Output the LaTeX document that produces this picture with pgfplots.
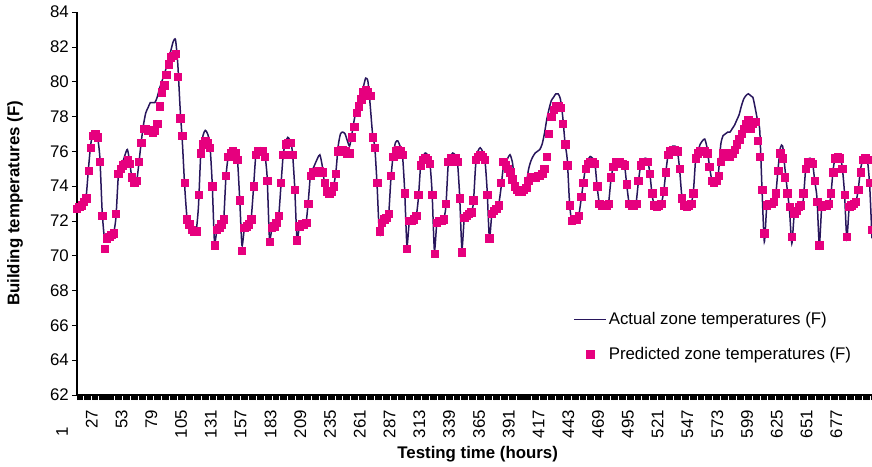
\documentclass[border=0pt]{standalone}
\usepackage{pgfplots}
\usepackage{pgfplotstable}
\pgfplotsset{compat=1.18}
\usepackage{fontspec}
\setmainfont{Liberation Sans}

\definecolor{actualline}{RGB}{40,22,92}
\definecolor{predmark}{RGB}{230,0,126}

\pgfplotsset{
  linelegend/.style={legend image code/.code={\draw[##1] (0bp,0bp) -- (32bp,0bp);}},
  marklegend/.style={legend image code/.code={\draw[mark repeat=2,mark phase=2,##1] plot coordinates {(0bp,0bp) (16bp,0bp) (32bp,0bp)};}},
}

% hour, actual zone temperature, predicted zone temperature (F)
\pgfplotstableread{
h A P
1 72.8 72.7
3 72.9 72.8
5 73.0 72.9
7 73.1 73.1
9 73.4 73.3
11 75.0 74.9
13 76.4 76.2
15 77.0 76.9
17 77.1 77.0
19 76.8 76.8
21 75.6 75.4
23 72.5 72.3
25 71.0 70.4
27 71.1 71.0
29 71.2 71.1
31 71.2 71.2
33 71.3 71.3
35 72.2 72.4
37 74.5 74.7
39 75.2 75.0
41 75.4 75.2
43 75.8 75.3
45 76.1 75.5
47 75.4 75.3
49 74.4 74.5
51 74.0 74.2
53 74.2 74.3
55 75.3 75.4
57 76.5 76.5
59 77.5 77.3
61 78.2 77.3
63 78.5 77.2
65 78.8 77.2
67 78.8 77.1
69 78.8 77.2
71 79.1 77.6
73 79.6 78.6
75 80.0 79.4
77 80.4 79.8
79 80.8 80.4
81 81.3 81.0
83 81.8 81.4
85 82.3 81.5
87 82.4 81.6
89 81.0 80.3
91 78.5 77.9
93 76.5 76.9
95 74.0 74.2
97 72.2 72.1
99 71.8 71.8
101 71.5 71.5
103 71.4 71.4
105 71.4 71.4
107 72.8 73.5
109 75.8 75.9
111 76.9 76.4
113 77.2 76.6
115 77.0 76.5
117 76.4 76.2
119 74.2 74.0
121 70.8 70.6
123 71.4 71.5
125 71.6 71.6
127 71.8 71.8
129 72.0 72.1
131 74.5 74.6
133 75.7 75.7
135 76.0 75.9
137 76.1 76.0
139 76.0 75.9
141 75.6 75.5
143 73.3 73.2
145 70.6 70.3
147 71.5 71.6
149 71.7 71.7
151 71.8 71.8
153 72.1 72.1
155 73.8 74.0
157 75.7 75.8
159 76.1 76.0
161 76.2 76.0
163 76.1 76.0
165 75.8 75.7
167 74.5 74.3
169 71.0 70.8
171 71.5 71.6
173 71.7 71.7
175 71.8 71.9
177 72.2 72.3
179 74.0 74.2
181 75.8 75.8
183 76.5 76.4
185 76.8 76.5
187 76.6 76.5
189 76.0 75.8
191 74.0 73.8
193 71.0 70.9
195 71.6 71.7
197 71.8 71.8
199 71.8 71.8
201 71.9 71.9
203 73.2 73.0
205 74.8 74.6
207 75.0 74.8
209 75.3 74.8
211 75.6 74.9
213 75.8 74.9
215 75.2 74.8
217 74.2 74.2
219 73.7 73.7
221 73.6 73.6
223 73.7 73.7
225 74.0 74.0
227 74.8 74.7
229 76.3 76.0
231 77.0 76.1
233 77.1 76.1
235 77.0 76.0
237 76.6 75.9
239 76.3 75.9
241 77.0 76.8
243 77.8 77.4
245 78.4 78.2
247 78.9 78.6
249 79.3 79.0
251 79.7 79.4
253 80.2 79.5
255 80.0 79.4
257 78.6 79.2
259 77.0 76.8
261 76.2 76.2
263 74.0 74.2
265 71.2 71.4
267 71.8 71.9
269 72.0 72.1
271 72.1 72.2
273 72.3 72.4
275 74.4 74.6
277 75.8 75.7
279 76.5 76.0
281 76.6 76.1
283 76.3 76.0
285 75.9 75.8
287 73.8 73.6
289 70.6 70.4
291 71.9 72.0
293 72.0 72.0
295 72.1 72.1
297 72.2 72.3
299 73.3 73.5
301 75.2 75.2
303 75.7 75.5
305 75.9 75.6
307 75.8 75.5
309 75.4 75.3
311 73.6 73.5
313 70.3 70.1
315 71.8 71.9
317 72.0 72.0
319 72.0 72.0
321 72.1 72.1
323 72.8 73.0
325 75.2 75.4
327 75.7 75.6
329 75.9 75.6
331 75.8 75.6
333 75.5 75.4
335 73.5 73.3
337 70.4 70.2
339 72.1 72.2
341 72.3 72.3
343 72.4 72.4
345 72.5 72.5
347 73.0 73.2
349 75.2 75.5
351 76.0 75.7
353 76.2 75.8
355 76.0 75.7
357 75.6 75.5
359 73.8 73.5
361 71.0 71.0
363 72.3 72.4
365 72.6 72.6
367 72.7 72.7
369 72.9 72.9
371 73.8 74.2
373 75.0 75.4
375 75.3 75.2
377 75.6 75.0
379 75.8 74.8
381 75.4 74.4
383 74.4 74.0
385 73.8 73.8
387 73.6 73.7
389 73.6 73.7
391 73.7 73.8
393 74.0 73.9
395 74.9 74.3
397 75.4 74.5
399 75.7 74.5
401 75.9 74.5
403 76.0 74.6
405 76.1 74.6
407 76.4 74.7
409 77.0 75.0
411 77.8 75.7
413 78.4 77.0
415 78.9 78.0
417 79.1 78.4
419 79.3 78.6
421 79.3 78.6
423 79.0 78.5
425 78.0 77.6
427 76.5 76.4
429 75.5 75.2
431 73.0 72.9
433 71.9 72.0
435 72.0 72.1
437 72.1 72.1
439 72.3 72.3
441 73.2 73.4
443 74.2 74.2
445 75.1 75.0
447 75.5 75.3
449 75.7 75.4
451 75.6 75.4
453 75.4 75.3
455 74.0 74.0
457 73.0 73.0
459 72.9 72.9
461 72.9 72.9
463 72.9 72.9
465 73.0 73.0
467 74.3 74.5
469 75.1 75.1
471 75.4 75.4
473 75.5 75.4
475 75.5 75.4
477 75.4 75.3
479 75.2 75.2
481 74.0 74.1
483 73.0 73.0
485 72.9 72.9
487 72.9 72.9
489 73.0 73.0
491 74.2 74.3
493 75.2 75.2
495 75.5 75.4
497 75.6 75.4
499 75.5 75.4
501 74.8 74.7
503 73.5 73.6
505 72.9 72.9
507 72.8 72.8
509 72.9 72.9
511 73.0 73.0
513 73.6 73.7
515 74.8 74.8
517 75.8 75.8
519 76.1 76.0
521 76.3 76.1
523 76.3 76.1
525 76.1 76.0
527 75.0 75.0
529 73.4 73.3
531 72.9 72.9
533 72.8 72.8
535 72.9 72.9
537 73.0 73.0
539 73.6 73.6
541 75.5 75.6
543 76.0 75.9
545 76.4 76.0
547 76.6 76.0
549 76.7 76.0
551 76.2 75.9
553 75.2 75.1
555 74.4 74.3
557 74.2 74.2
559 74.3 74.3
561 74.8 74.6
563 76.4 75.4
565 76.9 75.9
567 77.0 75.8
569 77.1 75.7
571 77.1 75.7
573 77.3 75.9
575 77.5 76.1
577 77.8 76.4
579 78.1 76.7
581 78.6 77.0
583 79.0 77.3
585 79.2 77.6
587 79.3 77.8
589 79.2 77.3
591 79.1 77.6
593 78.5 77.7
595 77.8 76.6
597 77.2 75.7
599 73.8 73.8
601 70.8 71.3
603 72.7 72.9
605 72.9 73.0
607 73.0 73.0
609 73.0 73.1
611 73.5 73.6
613 75.0 74.9
615 76.2 75.9
617 76.3 75.6
619 75.0 74.5
621 73.8 73.6
623 72.6 72.8
625 70.7 71.1
627 72.3 72.4
629 72.6 72.6
631 72.7 72.8
633 72.8 72.9
635 73.2 73.6
637 74.9 75.0
639 75.5 75.4
641 75.6 75.4
643 75.4 75.3
645 74.3 74.3
647 73.3 73.1
649 70.6 70.6
651 72.7 72.8
653 72.8 72.9
655 72.9 72.9
657 72.9 73.0
659 73.4 73.6
661 74.9 74.8
663 75.7 75.6
665 75.8 75.7
667 75.7 75.6
669 75.1 75.0
671 73.6 73.5
673 71.0 71.1
675 72.7 72.8
677 72.9 72.9
679 72.9 73.0
681 73.1 73.1
683 73.8 73.8
685 75.0 74.8
687 75.5 75.5
689 75.7 75.6
691 75.5 75.5
693 74.0 74.2
695 71.0 71.5
}\temps

\begin{document}
\fontsize{16.9}{20}\selectfont
\begin{tikzpicture}
\useasboundingbox (-77bp,-72bp) rectangle (795bp,395bp);
\begin{axis}[
  scale only axis,
  width=795bp, height=383bp,
  xmin=1, xmax=695,
  ymin=62, ymax=84,
  ytick={62,64,...,84},
  xtick={1,27,...,677},
  xticklabels={{1\hspace*{17bp}},27,53,79,105,131,157,183,209,235,261,287,313,339,365,391,417,443,469,495,521,547,573,599,625,651,677},
  minor xtick={1,2,...,695},
  axis x line*=bottom,
  axis y line*=left,
  axis line style={line width=1.2bp, black, -},
  tick align=outside,
  major tick length=5bp,
  minor tick length=5bp,
  every tick/.style={black, line width=0.6bp},
  minor tick style={black, line width=0.5bp},
  /pgf/number format/assume math mode=true,
  tick label style={font=\fontsize{16.9}{20}\selectfont},
  yticklabel style={inner sep=0pt, xshift=-3bp},
  xticklabel style={xshift=-15bp, yshift=-10bp, rotate=90, anchor=east, inner sep=0pt},
  xlabel={\bfseries Testing time (hours)},
  ylabel={\bfseries Building temperatures (F)},
  xlabel style={at={(axis description cs:0.504,-0.154)}, anchor=center, font=\fontsize{16.9}{20}\selectfont},
  ylabel style={at={(axis description cs:-0.078,0.5)}, anchor=center, font=\fontsize{16.9}{20}\selectfont},
  legend style={at={(axis description cs:0.624,0.222)}, anchor=north west, draw=none, fill=none,
    inner sep=0pt, row sep=16bp, font=\fontsize{16.9}{20}\selectfont,
    /tikz/every even column/.append style={column sep=0bp}},
  legend cell align=left,
]
\addplot[color=actualline, line width=1.5bp, smooth, tension=0.4, no markers, linelegend]
  table[x=h, y=A] {\temps};
\addlegendentry{Actual zone temperatures (F)}
\addplot[only marks, mark=square*, mark size=3.7bp, mark options={fill=predmark, draw=predmark}, marklegend]
  table[x=h, y=P] {\temps};
\addlegendentry{Predicted zone temperatures (F)}
\end{axis}
\end{tikzpicture}
\end{document}
